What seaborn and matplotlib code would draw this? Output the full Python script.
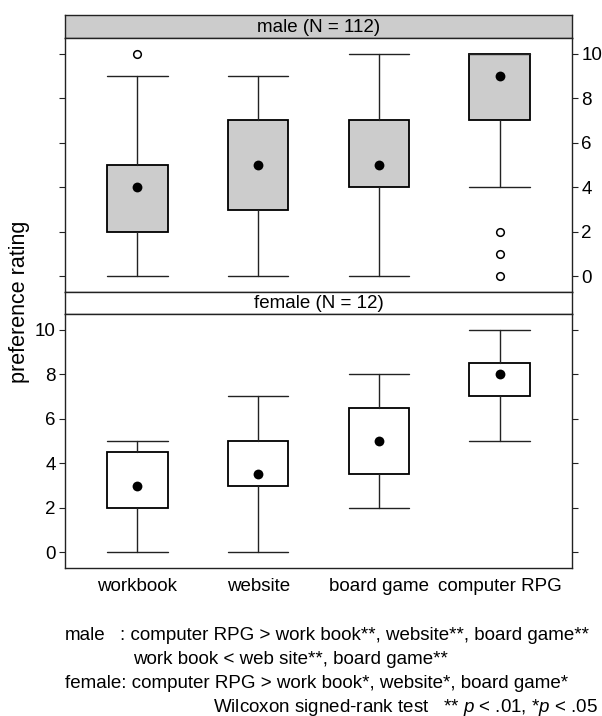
import matplotlib
matplotlib.use("Agg")
import matplotlib.pyplot as plt
import seaborn as sns
import pandas as pd

sns.set_theme(style="white")
plt.rcParams['font.family'] = ['Liberation Sans', 'DejaVu Sans']
plt.rcParams['mathtext.fontset'] = 'custom'
plt.rcParams['mathtext.it'] = 'Liberation Sans:italic'
plt.rcParams['mathtext.rm'] = 'Liberation Sans'
for k in ['text.color', 'axes.labelcolor', 'xtick.color', 'ytick.color']:
    plt.rcParams[k] = 'black'

categories = ["workbook", "website", "board game", "computer RPG"]
yticks = [0, 2, 4, 6, 8, 10]

# male summary statistics
male_whislo = [0, 0, 0, 4]
male_q1 = [2, 3, 4, 7]
male_med = [4, 5, 5, 9]
male_q3 = [5, 7, 7, 10]
male_whishi = [9, 9, 10, 10]
male_fliers = [[10], [], [], [2, 1, 0]]

# female summary statistics
female_whislo = [0, 0, 2, 5]
female_q1 = [2, 3, 3.5, 7]
female_med = [3, 3.5, 5, 8]
female_q3 = [4.5, 5, 6.5, 8.5]
female_whishi = [5, 7, 8, 10]
female_fliers = [[], [], [], []]

W, H = 602, 716
fig = plt.figure(figsize=(W / 100, H / 100), dpi=100)

def fr(x0, y0, x1, y1):
    return [x0 / W, 1 - y1 / H, (x1 - x0) / W, (y1 - y0) / H]

GREY = "#cccccc"
EDGE = "#222222"
FS = 13.5
X0, X1 = 65, 572

def strip(rect, text, color):
    a = fig.add_axes(rect)
    a.set_facecolor(color)
    a.set_xticks([]); a.set_yticks([])
    for s in a.spines.values():
        s.set_color(EDGE); s.set_linewidth(1.0); s.set_visible(True)
    a.text(0.5, 0.47, text, ha="center", va="center", fontsize=FS, transform=a.transAxes)
    return a

def panel(rect, whislo, q1, med, q3, whishi, fliers, fill, labels_right, show_x):
    ax = fig.add_axes(rect)
    ax.set_facecolor("white")
    stats = []
    for i, c in enumerate(categories):
        stats.append(dict(label=c, whislo=whislo[i], q1=q1[i], med=med[i],
                          q3=q3[i], whishi=whishi[i], fliers=fliers[i]))
    positions = list(range(len(categories)))
    ax.bxp(stats, positions=positions, widths=0.5, patch_artist=True,
           showfliers=True,
           boxprops=dict(facecolor=fill, edgecolor="black", linewidth=1.3),
           whiskerprops=dict(color=EDGE, linewidth=1.0),
           capprops=dict(color=EDGE, linewidth=1.0),
           capwidths=0.5,
           medianprops=dict(linewidth=0),
           flierprops=dict(marker="o", markersize=5.5, markerfacecolor="white",
                           markeredgecolor="black", markeredgewidth=1.1))
    df = pd.DataFrame({"x": positions, "y": med})
    sns.scatterplot(data=df, x="x", y="y", ax=ax, color="black", s=50,
                    edgecolor="black", linewidth=0, zorder=5)
    ax.set_xlim(-0.6, 3.6)
    ax.set_ylim(-0.7, 10.7)
    ax.set_yticks(yticks)
    ax.set_xlabel(""); ax.set_ylabel("")
    for s in ax.spines.values():
        s.set_color(EDGE); s.set_linewidth(1.0); s.set_visible(True)
    ax.tick_params(axis="y", which="both", direction="out", length=4.3, width=0.8,
                   color=EDGE, left=True, right=True,
                   labelleft=not labels_right, labelright=labels_right,
                   labelsize=FS, pad=2.5)
    if show_x:
        ax.set_xticks(positions)
        ax.set_xticklabels(categories, fontsize=FS)
        ax.tick_params(axis="x", length=0, pad=7)
    else:
        ax.set_xticks([])
    return ax

strip(fr(X0, 15, X1, 38), "male (N = 112)", GREY)
panel(fr(X0, 38, X1, 292), male_whislo, male_q1, male_med, male_q3, male_whishi,
      male_fliers, GREY, True, False)
strip(fr(X0, 292, X1, 314), "female (N = 12)", "white")
panel(fr(X0, 314, X1, 568), female_whislo, female_q1, female_med, female_q3,
      female_whishi, female_fliers, "white", False, True)

fig.text(19.5 / W, 1 - 302 / H, "preference rating", rotation=90, ha="center",
         va="center", fontsize=15.5)

def ft(x, y, s, ha="left"):
    fig.text(x / W, 1 - y / H, s, ha=ha, va="center", fontsize=FS)

ft(65, 635, "male")
ft(120, 635, ": computer RPG > work book**, website**, board game**")
ft(133, 659, "work book < web site**, board game**")
ft(65, 683, "female: computer RPG > work book*, website*, board game*")
ft(598, 707, "Wilcoxon signed-rank test   ** $p$ < .01, *$p$ < .05", ha="right")

fig.savefig("out.png", dpi=100)
